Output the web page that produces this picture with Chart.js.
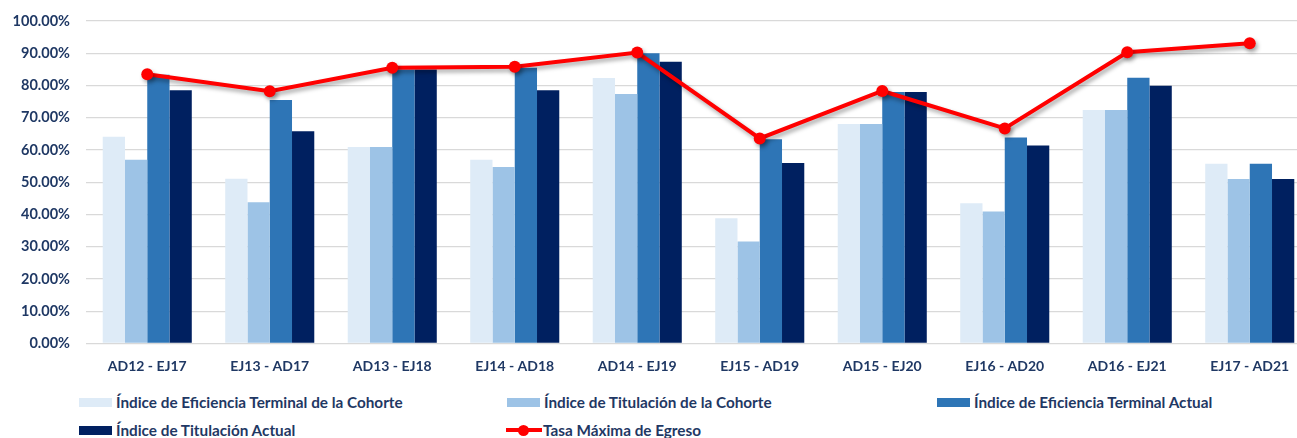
<!DOCTYPE html>
<html>
<head>
<meta charset="utf-8">
<script src="https://cdn.jsdelivr.net/npm/chart.js@4.4.1/dist/chart.umd.min.js"></script>
<style>
  html, body { margin:0; padding:0; background:#fff; overflow:hidden; width:1297px; height:438px; }
  #wrap { position:absolute; left:0; top:0; width:1320px; height:380px; }
  .leg { position:absolute; font-family:Lato, "Open Sans", sans-serif; font-weight:700; font-size:15.3px; color:#1F3864; white-space:nowrap; line-height:18px; }
  .leg .box { position:absolute; left:0; top:4.5px; width:33px; height:9.5px; }
  .leg .txt { position:absolute; left:37px; top:0; }
  .leg .ln { position:absolute; left:0; top:7px; width:36px; height:4px; background:#FF0000; }
  .leg .dot { position:absolute; left:12px; top:3.5px; width:11px; height:11px; border-radius:50%; background:#FF0000; }
</style>
</head>
<body>
<div id="wrap"><canvas id="c" width="1320" height="380"></canvas></div>
<div id="legend"></div>
<script>
const categories = ["AD12 - EJ17","EJ13 - AD17","AD13 - EJ18","EJ14 - AD18","AD14 - EJ19","EJ15 - AD19","AD15 - EJ20","EJ16 - AD20","AD16 - EJ21","EJ17 - AD21"];
const eficienciaCohorte = [64.1, 51.1, 60.9, 57.0, 82.3, 38.8, 68.1, 43.5, 72.4, 55.7];
const titulacionCohorte = [57.0, 43.8, 60.9, 54.7, 77.4, 31.6, 68.1, 40.9, 72.4, 51.0];
const eficienciaActual  = [83.3, 75.5, 85.0, 85.5, 90.0, 63.3, 78.0, 63.9, 82.4, 55.7];
const titulacionActual  = [78.5, 65.8, 85.0, 78.5, 87.4, 56.0, 78.0, 61.4, 79.9, 51.0];
const tasaMaxima        = [83.5, 78.2, 85.5, 85.8, 90.2, 63.6, 78.3, 66.7, 90.3, 93.1];
const yTicks = [0,10,20,30,40,50,60,70,80,90,100];

const names = ["Índice de Eficiencia Terminal de la Cohorte","Índice de Titulación de la Cohorte","Índice de Eficiencia Terminal Actual","Índice de Titulación Actual","Tasa Máxima de Egreso"];
const colors = ["#DEEBF7","#9DC3E6","#2E75B6","#002060","#FF0000"];
const textColor = "#1F3864";

const shadowPlugin = {
  id:'lineShadow',
  beforeDatasetDraw(chart, args){
    if (chart.data.datasets[args.index].type === 'line'){
      const ctx = chart.ctx; ctx.save();
      ctx.shadowColor = 'rgba(0,0,0,0.35)'; ctx.shadowBlur = 4; ctx.shadowOffsetX = 2; ctx.shadowOffsetY = 3;
    }
  },
  afterDatasetDraw(chart, args){
    if (chart.data.datasets[args.index].type === 'line'){ chart.ctx.restore(); }
  }
};

const barCommon = { type:'bar', barPercentage:1.0, categoryPercentage:0.727, borderWidth:0, order:1 };
new Chart(document.getElementById('c'), {
  data: {
    labels: categories,
    datasets: [
      { type:'line', label:names[4], data:tasaMaxima, borderColor:colors[4], backgroundColor:colors[4], borderWidth:4, pointRadius:6, pointHoverRadius:6, pointBackgroundColor:colors[4], pointBorderWidth:0, tension:0, order:0 },
      Object.assign({ label:names[0], data:eficienciaCohorte, backgroundColor:colors[0] }, barCommon),
      Object.assign({ label:names[1], data:titulacionCohorte, backgroundColor:colors[1] }, barCommon),
      Object.assign({ label:names[2], data:eficienciaActual, backgroundColor:colors[2] }, barCommon),
      Object.assign({ label:names[3], data:titulacionActual, backgroundColor:colors[3] }, barCommon)
    ]
  },
  options: {
    responsive:false, animation:false,
    layout:{ padding:{ top:21, right:9, bottom:0, left:0 } },
    plugins:{ legend:{ display:false }, tooltip:{ enabled:false } },
    scales:{
      x:{
        grid:{ display:false, drawTicks:false }, border:{ display:false },
        ticks:{ color:textColor, font:{ family:'Lato', weight:'bold', size:14 }, padding:15, maxRotation:0, autoSkip:false },
        afterFit(s){ s.height = 36.5; }
      },
      y:{
        min:0, max:100,
        afterBuildTicks(s){ s.ticks = yTicks.map(v => ({ value:v })); },
        grid:{ color:'#D9D9D9', lineWidth:1.3, drawTicks:false }, border:{ display:false },
        ticks:{ color:textColor, font:{ family:'Lato', weight:'bold', size:14.5 }, padding:16, callback:v => v.toFixed(2) + '%' },
        afterFit(s){ s.width = 86; s.paddingTop = 0; s.paddingBottom = 0; }
      }
    }
  },
  plugins:[shadowPlugin]
});

// HTML legend in three columns, two rows
const legendItems = [
  { i:0, x:79, y:393 }, { i:1, x:507, y:393 }, { i:2, x:937, y:393 },
  { i:3, x:79, y:421 }, { i:4, x:506, y:421 }
];
const lg = document.getElementById('legend');
legendItems.forEach(it => {
  const d = document.createElement('div'); d.className = 'leg';
  d.style.left = it.x + 'px'; d.style.top = it.y + 'px';
  if (it.i === 4) {
    d.innerHTML = '<span class="ln"></span><span class="dot"></span><span class="txt" style="left:37px">' + names[4] + '</span>';
  } else {
    d.innerHTML = '<span class="box" style="background:' + colors[it.i] + '"></span><span class="txt">' + names[it.i] + '</span>';
  }
  lg.appendChild(d);
});
</script>
</body>
</html>
